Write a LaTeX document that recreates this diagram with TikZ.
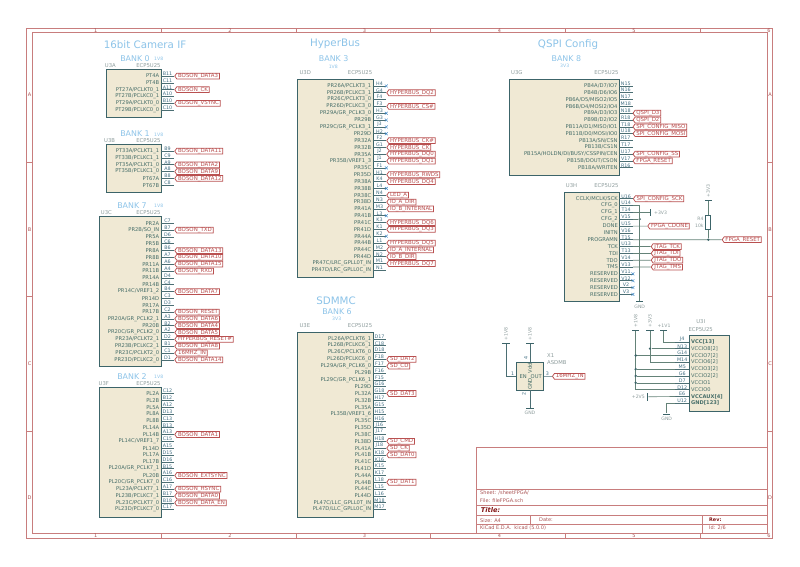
\documentclass[tikz,border=0pt]{standalone}
\usepackage{fontspec}
\setmainfont{DejaVu Sans}
\usetikzlibrary{shapes.symbols,shapes.misc}
\catcode`\_=12

\definecolor{framecol}{RGB}{200,125,125}
\definecolor{frametxt}{RGB}{170,85,85}
\definecolor{titlecol}{RGB}{130,20,20}
\definecolor{bodyfill}{RGB}{240,233,212}
\definecolor{bodyline}{RGB}{60,100,105}
\definecolor{pincol}{RGB}{75,110,115}
\definecolor{numcol}{RGB}{65,110,130}
\definecolor{namecol}{RGB}{70,110,105}
\definecolor{tagcol}{RGB}{185,80,80}
\definecolor{headcol}{RGB}{140,195,232}
\definecolor{reftxt}{RGB}{140,155,155}
\definecolor{wirecol}{RGB}{100,130,120}
\definecolor{nccol}{RGB}{70,140,200}

\newcommand{\fsize}[1]{\fontsize{#1}{#1}\selectfont}
\def\rowstep{6.83}
\def\nclab{x}
\def\nolab{-}

\tikzset{
  unitbox/.style={draw=bodyline, fill=bodyfill, line width=0.9pt, inner sep=0pt},
  pinline/.style={draw=pincol, line width=0.6pt},
  wire/.style={draw=wirecol, line width=0.6pt},
  pinnum/.style={font=\fsize{4.8}, text=numcol, above, inner sep=0.3pt},
  pinname/.style={font=\fsize{5.2}, text=namecol, inner sep=0pt},
  sigtag/.style={signal, signal to=west, signal from=nowhere, signal pointer angle=110, draw=tagcol, fill=white,
    line width=0.75pt, font=\fsize{5.45}, text=tagcol, text height=3.9pt, text depth=0.7pt,
    inner xsep=1.3pt, inner ysep=0.6pt, anchor=west},
  ncmark/.style={cross out, draw=nccol, line width=0.5pt, minimum size=2.4pt, inner sep=0pt},
  heading/.style={font=\fsize{10.3}, text=headcol, inner sep=0pt},
  banktxt/.style={font=\fsize{7.9}, text=headcol, inner sep=0pt},
  voltxt/.style={font=\fsize{4.6}, text=headcol, inner sep=0pt},
  reftext/.style={font=\fsize{5.3}, text=reftxt, inner sep=0pt},
  powtxt/.style={font=\fsize{4.6}, text=reftxt, inner sep=0pt},
  powbar/.style={fill=bodyline, inner sep=0pt, minimum width=7.4pt, minimum height=0.8pt},
  powbarv/.style={fill=bodyline, inner sep=0pt, minimum width=0.8pt, minimum height=7.4pt},
  junct/.style={circle, fill=bodyline, inner sep=0pt, minimum size=2.6pt},
  framebox/.style={draw=framecol, line width=0.7pt},
  frametext/.style={font=\fsize{5}, text=frametxt, inner sep=0pt},
}

\newcommand{\fpgabank}[6]{
  \node[unitbox, minimum width={(#3-#2)*1pt}, minimum height={(#5-#4)*1pt}, anchor=north west] (#1) at (#2,#4) {};
  \foreach \pname/\pnum/\plab [count=\n] in {#6} {
    \coordinate (p0-\pnum) at (#3,{#4+\n*\rowstep});
    \node[pinname, anchor=east] (m-\pnum) at ([xshift=-1.3pt]p0-\pnum) {\pname};
    \draw[pinline] (p0-\pnum) -- node[pinnum] (n-\pnum) {\pnum} ++(13.6,0) coordinate (p-\pnum);
    \ifx\plab\nclab
      \node[ncmark] (x-\pnum) at (p-\pnum) {};
    \else\ifx\plab\nolab\else
      \node[sigtag] (tag-\pnum) at (p-\pnum) {\plab};
    \fi\fi
  }
}

\begin{document}
\begin{tikzpicture}[x=1pt, y=-1pt]
\useasboundingbox (0,0) rectangle (800,566);

\draw[framebox] (26.7,28) rectangle (772.7,538.7);
\draw[framebox] (32.3,32.7) rectangle (767.7,533);
\foreach \tx in {161.3,296,430.8,565.7,700} {
  \draw[framebox] (\tx,28) -- (\tx,32.7);
  \draw[framebox] (\tx,533) -- (\tx,538.7);
}
\foreach \ty in {162,296.8,431.5} {
  \draw[framebox] (26.7,\ty) -- (32.3,\ty);
  \draw[framebox] (767.7,\ty) -- (772.7,\ty);
}
\foreach \tx/\tn in {95.7/1,230/2,364.5/3,499.5/4,634/5,769/6} {
  \node[frametext] (coltop\tn) at (\tx,30.4) {\tn};
  \node[frametext] (colbot\tn) at (\tx,536) {\tn};
}
\foreach \ty/\tn in {94.7/A,229.5/B,364/C,498/D} {
  \node[frametext] (rowl\tn) at (29.5,\ty) {\tn};
  \node[frametext] (rowr\tn) at (770,\ty) {\tn};
}

\draw[framebox] (476.7,447.3) rectangle (767.7,533);
\draw[framebox] (476.7,489.3) -- (767.7,489.3);
\draw[framebox] (476.7,505.3) -- (767.7,505.3);
\draw[framebox] (476.7,515.7) -- (767.7,515.7);
\draw[framebox] (476.7,524.3) -- (767.7,524.3);
\draw[framebox] (530.7,515.7) -- (530.7,524.3);
\draw[framebox] (702.3,515.7) -- (702.3,533);
\node[frametext, anchor=west] (sheetname) at (480,493) {Sheet: /sheetFPGA/};
\node[frametext, anchor=west] (filename) at (480,500.3) {File: fileFPGA.sch};
\node[anchor=west, inner sep=0pt, text=titlecol, font=\fsize{6.6}\bfseries\itshape] (titlename) at (480.7,510.3) {Title:};
\node[frametext, anchor=west] (sizename) at (480,520.2) {Size: A4};
\node[frametext, anchor=west] (datename) at (539,520.2) {Date:};
\node[anchor=west, inner sep=0pt, text=titlecol, font=\fsize{4.9}\bfseries] (revname) at (709,520.2) {Rev:};
\node[frametext, anchor=west] (toolname) at (480,528.2) {KiCad E.D.A.\ \ kicad (5.0.0)};
\node[frametext, anchor=west] (idname) at (709,528.2) {Id: 2/6};

\node[heading] (headcam) at (145,44.3) {16bit Camera IF};
\node[heading] (headhyper) at (335,44.3) {HyperBus};
\node[heading] (headqspi) at (568,44.3) {QSPI Config};
\node[heading] (headsd) at (336,300.7) {SDMMC};

\node[banktxt] (bank0) at (135,58.3) {BANK 0};
\node[voltxt] (vol0) at (158.7,59.3) {1V8};
\node[banktxt] (bank1) at (135,133.7) {BANK 1};
\node[voltxt] (vol1) at (158.7,134.7) {1V8};
\node[banktxt] (bank7) at (132,205.3) {BANK 7};
\node[voltxt] (vol7) at (158.7,206.3) {1V8};
\node[banktxt] (bank2) at (132,376.3) {BANK 2};
\node[voltxt] (vol2) at (158.7,377.3) {1V8};
\node[banktxt] (bank3) at (333.7,58.3) {BANK 3};
\node[voltxt] (vol3) at (333.3,66.7) {1V8};
\node[banktxt] (bank6) at (337,311.7) {BANK 6};
\node[voltxt] (vol6) at (336.7,319.3) {3V3};
\node[banktxt] (bank8) at (566.3,58.7) {BANK 8};
\node[voltxt] (vol8) at (564.7,66) {3V3};

\foreach \rname/\rx/\ex/\ry in {U3A/104.7/160.7/65.7, U3B/104/160.7/140.7, U3C/100.7/160.7/212.3, U3F/98.5/160.7/383.3,
    U3D/299.3/372.4/72.7, U3E/299.3/372.4/325.7, U3G/511/618.7/72.7, U3H/565.7/618.7/185.7} {
  \node[reftext, anchor=west] (ref\rname) at (\rx,\ry) {\rname};
  \node[reftext, anchor=east] (val\rname) at (\ex,\ry) {ECP5U25};
}

\fpgabank{U3A}{106}{160.7}{69.2}{117}{
  PT4A/B11/BOSON_DATA3, PT4B/C11/-, {PT27A/PCLKT0_1}/A11/BOSON_CK, {PT27B/PCLKC0_1}/A10/-,
  {PT29A/PCLKT0_0}/B10/BOSON_VSYNC, {PT29B/PCLKC0_0}/C10/-}

\fpgabank{U3B}{106}{160.7}{144.3}{192.3}{
  {PT33A/PCLKT1_1}/B9/BOSON_DATA11, {PT33B/PCLKC1_1}/C9/-, {PT35A/PCLKT1_0}/A9/BOSON_DATA2,
  {PT35B/PCLKC1_0}/A8/BOSON_DATA9, PT67A/B8/BOSON_DATA12, PT67B/C8/-}

\fpgabank{U3C}{99}{160.7}{216.4}{366}{
  PR2A/C7/-, {PR2B/SO_IN}/B7/BOSON_TXD, PR5A/D6/-, PR5B/C6/-, PR8A/B6/BOSON_DATA13, PR8B/A7/BOSON_DATA10,
  PR11A/A6/BOSON_DATA15, PR11B/A4/BOSON_RXD, PR14A/D4/-, PR14B/C4/-, {PR14C/VREF1_2}/B4/BOSON_DATA7,
  PR14D/C3/-, PR17A/D3/-, PR17B/C2/BOSON_RESET, {PR20A/GR_PCLK2_1}/A3/BOSON_DATA6, PR20B/B2/BOSON_DATA4,
  {PR20C/GR_PCLK2_0}/A2/BOSON_DATA5, {PR23A/PCLKT2_1}/D2/HYPERBUS_RESET\#, {PR23B/PCLKC2_1}/B1/BOSON_DATA8,
  {PR23C/PCLKT2_0}/C1/16MHZ_IN, {PR23D/PCLKC2_0}/D1/BOSON_DATA14}

\fpgabank{U3F}{99}{160.7}{386.7}{517}{
  PL2A/C12/-, PL2B/B12/-, PL5A/A12/-, PL8A/D13/-, PL8B/C13/-, PL14A/B13/-, PL14B/A13/BOSON_DATA1,
  {PL14C/VREF1_7}/C15/-, PL14D/A15/-, PL17A/D15/-, PL17B/D16/-, {PL20A/GR_PCLK7_1}/B15/-,
  PL20B/A16/BOSON_EXTSYNC, {PL20C/GR_PCLK7_0}/C16/-, {PL23A/PCLKT7_1}/A17/BOSON_HSYNC,
  {PL23B/PCLKC7_1}/B17/BOSON_DATA0, {PL23C/PCLKT7_0}/B18/BOSON_DATA_EN, {PL23D/PCLKC7_0}/C17/-}

\fpgabank{U3D}{297.3}{372.7}{79.1}{277.3}{
  {PR26A/PCLKT3_1}/H4/x, {PR26B/PCLKC3_1}/G4/HYPERBUS_DQ2, {PR26C/PCLKT3_0}/F4/-, {PR26D/PCLKC3_0}/F3/HYPERBUS_CS\#,
  {PR29A/GR_PCLK3_0}/H3/x, PR29B/G3/x, {PR29C/GR_PCLK3_1}/J3/x, PR29D/H2/x, PR32A/F2/HYPERBUS_CK\#,
  PR32B/G1/HYPERBUS_CK, PR35A/J2/HYPERBUS_DQ0, {PR35B/VREF1_3}/J1/HYPERBUS_DQ1, PR35C/F1/x,
  PR35D/H1/HYPERBUS_RWDS, PR38A/K4/HYPERBUS_DQ4, PR38B/L4/x, PR38C/N4/LED_A, PR38D/N3/IO_A_DIR,
  PR41A/M3/IO_B_INTERNAL, PR41B/L3/x, PR41C/K3/HYPERBUS_DQ6, PR41D/K1/HYPERBUS_DQ3, PR44A/K2/x,
  PR44B/L1/HYPERBUS_DQ5, PR44C/M2/IO_A_INTERNAL, PR44D/N2/IO_B_DIR, {PR47C/LRC_GPLL0T_IN}/M1/HYPERBUS_DQ7,
  {PR47D/LRC_GPLL0C_IN}/N1/-}

\fpgabank{U3E}{297.3}{372.7}{332}{516.7}{
  {PL26A/PCLKT6_1}/D17/-, {PL26B/PCLKC6_1}/C18/-, {PL26C/PCLKT6_0}/D18/-, {PL26D/PCLKC6_0}/F18/SD_DAT2,
  {PL29A/GR_PCLK6_0}/F17/SD_CD, PL29B/F16/-, {PL29C/GR_PCLK6_1}/F15/-, PL29D/G16/-, PL32A/G18/SD_DAT3,
  PL32B/H17/-, PL35A/G15/-, {PL35B/VREF1_6}/H15/-, PL35C/H16/-, PL35D/J16/-, PL38C/J17/-, PL38D/H18/SD_CMD,
  PL41A/J18/SD_CK, PL41B/K18/SD_DAT0, PL41C/K16/-, PL41D/K15/-, PL44A/K17/-, PL44B/L18/SD_DAT1, PL44C/L15/-,
  PL44D/L16/-, {PL47C/LLC_GPLL0T_IN}/M18/-, {PL47D/LLC_GPLL0C_IN}/M17/-}

\fpgabank{U3G}{509.3}{619}{79}{175}{
  {PB4A/D7/IO7}/N15/-, {PB4B/D6/IO6}/N16/-, {PB6A/D5/MISO2/IO5}/N17/-, {PB6B/D4/MOSI2/IO4}/M18/-,
  {PB9A/D3/IO3}/N18/QSPI_D3, {PB9B/D2/IO2}/R18/QSPI_D2, {PB11A/D1/MISO/IO1}/T18/SPI_CONFIG_MISO,
  {PB11B/D0/MOSI/IO0}/U18/SPI_CONFIG_MOSI, {PB13A/SN/CSN}/R17/-, {PB13B/CS1N}/T17/-,
  {PB15A/HOLDN/DI/BUSY/CSSPIN/CEN}/U17/SPI_CONFIG_SS, {PB15B/DOUT/CSON}/V17/FPGA_RESET, {PB18A/WRITEN}/R16/-}

\fpgabank{U3H}{564.3}{619.3}{191.9}{301.4}{
  {CCLK/MCLK/SCK}/U16/SPI_CONFIG_SCK, CFG_0/U14/-, CFG_1/T14/-, CFG_2/V15/-, DONE/U15/-, INITN/V16/-,
  PROGRAMN/T15/-, TCK/U13/-, TDI/T13/-, TDO/V14/-, TMS/V13/-, RESERVED/V11/x, RESERVED/V12/x,
  RESERVED/V2/x, RESERVED/V3/x}

\coordinate (gndrail) at (639.7,301);
\node[junct] (jcfg) at (p-V15 -| gndrail) {};
\draw[wire] (p-U14) -| (gndrail);
\draw[wire] (p-V15) -- (jcfg);
\node[powbar] (gndH) at (gndrail) {};
\node[powtxt] (gndHtxt) at (639.7,306.7) {GND};

\coordinate (powx) at (650.7,0);
\node[powbarv] (powT14) at (p-T14 -| powx) {};
\draw[wire] (p-T14) -- (powT14);
\node[powtxt, anchor=west] (powT14txt) at (654,212.4) {+3V3};

\coordinate (donex) at (647.3,0);
\node[sigtag] (tagdone) at (p-U15 -| donex) {FPGA_CDONE};
\draw[wire] (p-U15) -- (tagdone);
\foreach \jpin/\jtxt in {U13/JTAG_TCK,T13/JTAG_TDI,V14/JTAG_TDO,V13/JTAG_TMS} {
  \node[sigtag] (tag\jpin) at (p-\jpin -| powx) {\jtxt};
  \draw[wire] (p-\jpin) -- (tag\jpin);
}

\coordinate (resetx) at (721.7,0);
\node[sigtag] (tagreset) at (p-T15 -| resetx) {FPGA_RESET};
\draw[wire] (p-T15) -- (tagreset);
\node[draw=bodyline, line width=0.7pt, fill=white, minimum width=5pt, minimum height=13.6pt, inner sep=0pt] (R4) at (708.3,222.5) {};
\node[powbar] (powR4) at (708.3,200) {};
\node[junct] (jreset) at (p-T15 -| R4) {};
\draw[wire] (powR4) -- (R4);
\draw[wire] (R4) -- (jreset);
\node[powtxt, rotate=90] (powR4txt) at (708.3,190.7) {+3V3};
\node[powtxt, anchor=east] (R4ref) at (703.8,219) {R4};
\node[powtxt, anchor=east] (R4val) at (703.8,225.7) {10k};

\node[unitbox, minimum width=26.6pt, minimum height=27.3pt] (X1) at (530,376.3) {};
\node[powbar] (pow1) at (506,343.3) {};
\node[powbar] (pow2) at (530,343.3) {};
\node[powtxt, rotate=90, anchor=west] (pow1txt) at (506,340.3) {+1V8};
\node[powtxt, rotate=90, anchor=west] (pow2txt) at (530,340.3) {+1V8};
\node[powbar] (gndX) at (530,408.3) {};
\node[powtxt] (gndXtxt) at (530,412.8) {GND};
\draw[pinline] (pow1) |- (X1.west);
\draw[pinline] (pow2) -- (X1.north);
\draw[pinline] (X1.south) -- (gndX);
\node[sigtag] (tagX1) at (552,376.3) {16MHZ_IN};
\draw[pinline] (X1.east) -- (tagX1);
\node[pinname, anchor=west] (X1en) at (519.3,376.3) {EN};
\node[pinname, anchor=east] (X1out) at (542,376.3) {OUT};
\node[pinname, rotate=90] (X1vdd) at (530,368) {Vdd};
\node[pinname, rotate=90] (X1gnd) at (530,384) {GND};
\node[pinnum] (X1n1) at (512.7,375.6) {1};
\node[pinnum] (X1n3) at (547.3,375.6) {3};
\node[pinnum, rotate=90] (X1n4) at (528,358) {4};
\node[pinnum, rotate=90] (X1n2) at (526,394) {2};
\node[reftext, anchor=west] (X1ref) at (547,356) {X1};
\node[reftext, anchor=west] (X1val) at (547,362.9) {ASDMB};

\node[unitbox, minimum width=39.7pt, minimum height=76pt, anchor=north west] (U3I) at (689,335) {};
\node[reftext] (refU3I) at (700.7,322) {U3I};
\node[reftext] (valU3I) at (700.7,330) {ECP5U25};
\foreach \pname/\pnum/\pfont [count=\n] in {VCC[13]/J4/\bfseries, VCCIO8[2]/N13/\relax, VCCIO7[2]/G14/\relax, VCCIO6[2]/M14/\relax,
    VCCIO3[2]/M5/\relax, VCCIO2[2]/G6/\relax, VCCIO1/D7/\relax, VCCIO0/D12/\relax, VCCAUX[4]/E6/\bfseries, GND[123]/U12/\bfseries} {
  \coordinate (p0-\pnum) at (689,{335+\n*\rowstep});
  \node[pinname, anchor=west, font=\fsize{5.1}\pfont] (m-\pnum) at (691,{335+\n*\rowstep}) {\pname};
  \draw[pinline] (p0-\pnum) -- node[pinnum] (n-\pnum) {\pnum} ++(-13.6,0) coordinate (p-\pnum);
}

\node[powbar] (rail18) at (635.7,330.7) {};
\node[powbar] (rail33) at (650,330.7) {};
\node[powbar] (rail11) at (663.7,330.7) {};
\node[powtxt, rotate=90, anchor=west] (rail18txt) at (635.7,327.7) {+1V8};
\node[powtxt, rotate=90, anchor=west] (rail33txt) at (650,327.7) {+3V3};
\node[powtxt] (rail11txt) at (664,325.7) {+1V1};
\draw[wire] (rail18) |- (p-D12);
\foreach \jpin in {G14,M5,G6,D7} {
  \node[junct] (j\jpin) at (p-\jpin -| rail18) {};
  \draw[wire] (j\jpin) -- (p-\jpin);
}
\draw[wire] (rail33) |- (p-M14);
\node[junct] (jN13) at (p-N13 -| rail33) {};
\draw[wire] (jN13) -- (p-N13);
\draw[wire] (rail11) |- (p-J4);
\node[powbarv] (rail25) at (647.7,396.8) {};
\node[powtxt, anchor=east] (rail25txt) at (645,396.8) {+2V5};
\draw[wire] (rail25) -- (p-E6);
\node[powbar] (gndI) at (666.7,414) {};
\node[powtxt] (gndItxt) at (666.7,419) {GND};
\draw[wire] (p-U12) -| (gndI);

\end{tikzpicture}
\end{document}
